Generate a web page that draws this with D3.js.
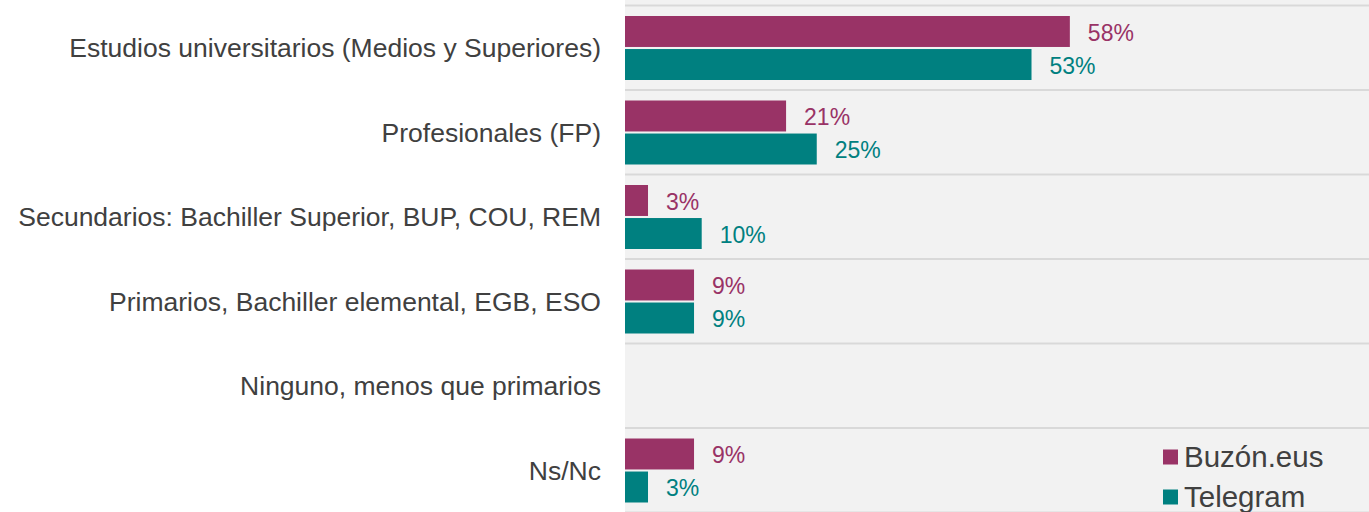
<!DOCTYPE html>
<html>
<head>
<meta charset="utf-8">
<script src="https://cdn.jsdelivr.net/npm/d3@7"></script>
<style>
  body { margin: 0; background: #fff; }
  svg text { font-family: "Liberation Sans", Arial, sans-serif; }
</style>
</head>
<body>
<svg width="1369" height="512"></svg>
<script>
const categories = [
  "Estudios universitarios (Medios y Superiores)",
  "Profesionales (FP)",
  "Secundarios: Bachiller Superior, BUP, COU, REM",
  "Primarios, Bachiller elemental, EGB, ESO",
  "Ninguno, menos que primarios",
  "Ns/Nc"
]
const seriesNames = ["Buzón.eus", "Telegram"]
const buzon = [58, 21, 3, 9, null, 9]
const telegram = [53, 25, 10, 9, null, 3]
const colors = ["#993366", "#008080"]

const svg = d3.select("svg")
const width = +svg.attr("width")
const height = +svg.attr("height")

const plotLeft = 625
const x = d3.scaleLinear().domain([0, 100]).range([plotLeft, plotLeft + 767])
const y = d3.scaleBand().domain(categories).range([5.5, 5.5 + 84.5 * 6])
const inner = d3.scaleBand().domain(seriesNames).range([10.5, 74.5]).paddingInner(4 / 64)

// plot background
svg.append("rect")
  .attr("x", plotLeft).attr("y", 0)
  .attr("width", width - plotLeft).attr("height", height)
  .attr("fill", "#f2f2f2")

// separators between groups
const edges = categories.map((c) => y(c)).concat([y.range()[1]])
svg.append("g")
  .selectAll("line")
  .data(edges)
  .join("line")
  .attr("x1", plotLeft).attr("x2", width)
  .attr("y1", (d) => d).attr("y2", (d) => d)
  .attr("stroke", "#d9d9d9")
  .attr("stroke-width", 2)

// category labels
svg.append("g")
  .selectAll("text")
  .data(categories)
  .join("text")
  .attr("x", 601)
  .attr("y", (d) => y(d) + y.bandwidth() / 2)
  .attr("dy", "0.36em")
  .attr("text-anchor", "end")
  .attr("font-size", 26.5)
  .attr("fill", "#404040")
  .text((d) => d)

const rows = []
categories.forEach((c, i) => {
  rows.push({ cat: c, s: seriesNames[0], v: buzon[i], color: colors[0] })
  rows.push({ cat: c, s: seriesNames[1], v: telegram[i], color: colors[1] })
})
const shown = rows.filter((d) => d.v != null)

svg.append("g")
  .selectAll("rect")
  .data(shown)
  .join("rect")
  .attr("x", x(0))
  .attr("y", (d) => y(d.cat) + inner(d.s))
  .attr("width", (d) => x(d.v) - x(0))
  .attr("height", inner.bandwidth())
  .attr("fill", (d) => d.color)

svg.append("g")
  .selectAll("text")
  .data(shown)
  .join("text")
  .attr("x", (d) => x(d.v) + 18)
  .attr("y", (d) => y(d.cat) + inner(d.s) + inner.bandwidth() / 2)
  .attr("dy", "0.4em")
  .attr("font-size", 23)
  .attr("fill", (d) => d.color)
  .text((d) => d.v + "%")

// legend
const legend = svg.append("g")
  .selectAll("g")
  .data(seriesNames)
  .join("g")
  .attr("transform", (d, i) => "translate(1163," + (457 + i * 40) + ")")
legend.append("rect")
  .attr("x", 0).attr("y", -7.5)
  .attr("width", 15).attr("height", 15)
  .attr("fill", (d, i) => colors[i])
legend.append("text")
  .attr("x", 21)
  .attr("dy", "0.35em")
  .attr("font-size", 29.5)
  .attr("fill", "#404040")
  .text((d) => d)
</script>
</body>
</html>
